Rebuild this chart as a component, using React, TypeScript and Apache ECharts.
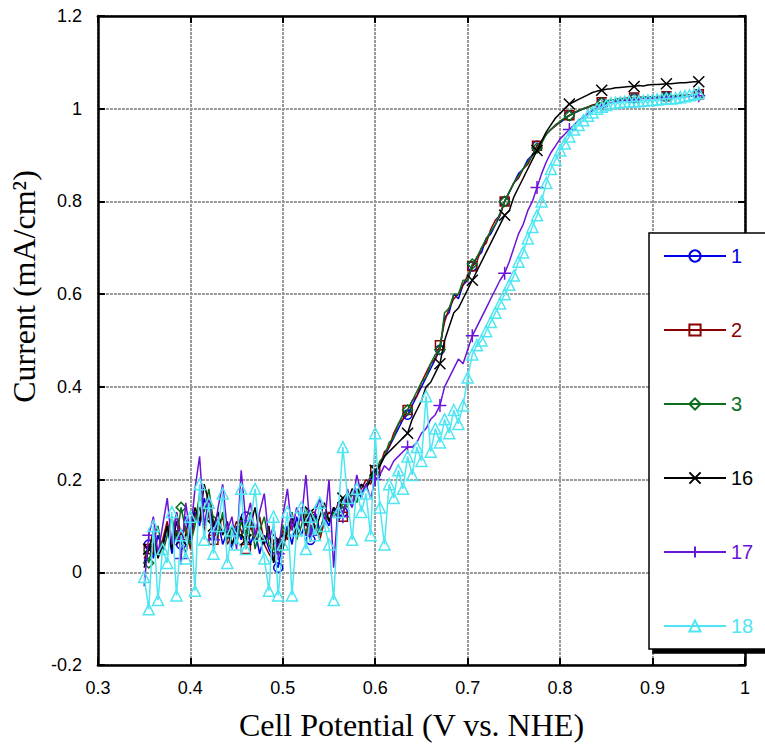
import React, { useEffect, useRef } from "react";
import * as echarts from "echarts";

// Cell potential (V vs. NHE), shared by all series
const potential = [
  0.35, 0.355, 0.36, 0.365, 0.37, 0.375, 0.38, 0.385, 0.39, 0.395, 0.4,
  0.405, 0.41, 0.415, 0.42, 0.425, 0.43, 0.435, 0.44, 0.445, 0.45,
  0.455, 0.46, 0.465, 0.47, 0.475, 0.48, 0.485, 0.49, 0.495, 0.5,
  0.505, 0.51, 0.515, 0.52, 0.525, 0.53, 0.535, 0.54, 0.545, 0.55,
  0.555, 0.56, 0.565, 0.57, 0.575, 0.58, 0.585, 0.59, 0.595, 0.6,
  0.605, 0.61, 0.615, 0.62, 0.625, 0.63, 0.635, 0.64, 0.645, 0.65,
  0.655, 0.66, 0.665, 0.67, 0.675, 0.68, 0.685, 0.69, 0.695, 0.7,
  0.705, 0.71, 0.715, 0.72, 0.725, 0.73, 0.735, 0.74, 0.745, 0.75,
  0.755, 0.76, 0.765, 0.77, 0.775, 0.78, 0.785, 0.79, 0.795, 0.8,
  0.805, 0.81, 0.815, 0.82, 0.825, 0.83, 0.835, 0.84, 0.845, 0.85,
  0.855, 0.86, 0.865, 0.87, 0.875, 0.88, 0.885, 0.89, 0.895, 0.9,
  0.905, 0.91, 0.915, 0.92, 0.925, 0.93, 0.935, 0.94, 0.945, 0.95,
];

// Current (mA/cm2)
const run1 = [
  0.02, 0.06, 0.03, 0.08, 0.05, 0.1, 0.04, 0.09, 0.06, 0.12, 0.07,
  0.13, 0.1, 0.16, 0.12, 0.08, 0.11, 0.06, 0.09, 0.05, 0.1,
  0.07, 0.12, 0.06, 0.09, 0.04, 0.08, 0.05, 0.03, 0.01, 0.07,
  0.1, 0.06, 0.12, 0.08, 0.11, 0.07, 0.13, 0.09, 0.12, 0.1,
  0.14, 0.11, 0.13, 0.16, 0.14, 0.18, 0.16, 0.19, 0.2, 0.21,
  0.23, 0.25, 0.27, 0.29, 0.31, 0.33, 0.34, 0.36, 0.38, 0.4,
  0.42, 0.44, 0.46, 0.48, 0.55, 0.56, 0.6, 0.59, 0.62, 0.63,
  0.66, 0.68, 0.69, 0.72, 0.73, 0.75, 0.77, 0.8, 0.82, 0.84,
  0.86, 0.87, 0.89, 0.9, 0.92, 0.93, 0.945, 0.955, 0.965, 0.97,
  0.978, 0.985, 0.99, 0.995, 1.0, 1.003, 1.007, 1.01, 1.013, 1.016,
  1.018, 1.02, 1.021, 1.022, 1.022, 1.023, 1.024, 1.024, 1.025, 1.025,
  1.026, 1.026, 1.027, 1.027, 1.027, 1.028, 1.028, 1.029, 1.029, 1.03,
];

const run2 = [
  0.03, 0.05, 0.09, 0.04, 0.07, 0.11, 0.06, 0.13, 0.08, 0.1, 0.05,
  0.12, 0.14, 0.09, 0.13, 0.07, 0.1, 0.12, 0.06, 0.08, 0.11,
  0.09, 0.05, 0.1, 0.07, 0.12, 0.06, 0.04, 0.025, 0.06, 0.09,
  0.07, 0.11, 0.09, 0.13, 0.08, 0.12, 0.1, 0.07, 0.11, 0.13,
  0.12, 0.15, 0.12, 0.17, 0.15, 0.17, 0.18, 0.2, 0.19, 0.22,
  0.23, 0.26, 0.27, 0.3, 0.32, 0.33, 0.35, 0.37, 0.38, 0.41,
  0.43, 0.45, 0.46, 0.49, 0.54, 0.57, 0.59, 0.6, 0.62, 0.64,
  0.66, 0.67, 0.7, 0.71, 0.74, 0.76, 0.77, 0.8, 0.82, 0.84,
  0.85, 0.87, 0.88, 0.9, 0.92, 0.93, 0.945, 0.955, 0.963, 0.972,
  0.98, 0.986, 0.992, 0.996, 1.0, 1.004, 1.008, 1.01, 1.014, 1.017,
  1.019, 1.02, 1.022, 1.022, 1.023, 1.024, 1.024, 1.025, 1.025, 1.026,
  1.026, 1.027, 1.027, 1.028, 1.028, 1.029, 1.029, 1.03, 1.03, 1.031,
];

const run3 = [
  0.05, 0.02, 0.07, 0.1, 0.04, 0.08, 0.12, 0.07, 0.14, 0.09, 0.06,
  0.1, 0.17, 0.13, 0.18, 0.11, 0.08, 0.13, 0.07, 0.1, 0.06,
  0.11, 0.08, 0.13, 0.05, 0.09, 0.12, 0.06, 0.04, 0.05, 0.1,
  0.08, 0.13, 0.07, 0.1, 0.14, 0.09, 0.12, 0.08, 0.13, 0.11,
  0.13, 0.12, 0.15, 0.14, 0.17, 0.15, 0.19, 0.18, 0.21, 0.21,
  0.24, 0.25, 0.28, 0.29, 0.32, 0.34, 0.35, 0.37, 0.39, 0.41,
  0.42, 0.45, 0.47, 0.48, 0.56, 0.57, 0.6, 0.6, 0.63, 0.63,
  0.665, 0.68, 0.7, 0.72, 0.735, 0.75, 0.775, 0.8, 0.82, 0.84,
  0.855, 0.87, 0.885, 0.9, 0.915, 0.925, 0.945, 0.955, 0.965, 0.973,
  0.98, 0.985, 0.991, 0.996, 1.0, 1.003, 1.006, 1.01, 1.013, 1.016,
  1.018, 1.019, 1.021, 1.022, 1.022, 1.023, 1.023, 1.024, 1.024, 1.025,
  1.026, 1.026, 1.026, 1.027, 1.027, 1.028, 1.028, 1.028, 1.029, 1.029,
];

const run16 = [
  0.01, 0.05, 0.08, 0.03, 0.06, 0.1, 0.05, 0.11, 0.07, 0.04, 0.09,
  0.14, 0.11, 0.19, 0.15, 0.1, 0.13, 0.08, 0.11, 0.06, 0.09,
  0.12, 0.07, 0.1, 0.14, 0.08, 0.06, 0.1, 0.02, 0.07, 0.05,
  0.09, 0.12, 0.08, 0.14, 0.1, 0.13, 0.09, 0.12, 0.15, 0.11,
  0.14, 0.13, 0.16, 0.15, 0.18, 0.17, 0.19, 0.18, 0.2, 0.22,
  0.23, 0.25, 0.26, 0.27, 0.28, 0.29, 0.3, 0.33, 0.35, 0.37,
  0.4, 0.41, 0.43, 0.45, 0.5, 0.53, 0.56, 0.57, 0.59, 0.61,
  0.63, 0.65, 0.67, 0.69, 0.71, 0.73, 0.75, 0.77, 0.78, 0.81,
  0.83, 0.85, 0.87, 0.89, 0.91, 0.93, 0.95, 0.965, 0.98, 0.99,
  1.0, 1.01, 1.015, 1.02, 1.025, 1.03, 1.035, 1.038, 1.04, 1.042,
  1.043, 1.045, 1.046, 1.047, 1.048, 1.048, 1.05, 1.049, 1.051, 1.052,
  1.052, 1.053, 1.054, 1.054, 1.055, 1.056, 1.056, 1.057, 1.058, 1.058,
];

const run17 = [
  -0.03, 0.08, 0.12, 0.04, 0.1, 0.16, 0.06, 0.13, 0.03, 0.15, 0.08,
  0.18, 0.25, 0.1, 0.16, 0.07, 0.14, 0.19, 0.09, 0.12, 0.05,
  0.22, 0.11, 0.15, 0.08, 0.13, 0.17, 0.07, 0.1, 0.04, 0.12,
  0.18, 0.09, 0.14, 0.11, 0.21, 0.08, 0.13, 0.16, 0.1, 0.2,
  0.01, 0.15, 0.12, 0.18, 0.14, 0.21, 0.17, 0.19, 0.16, 0.2,
  0.21, 0.23, 0.22, 0.24, 0.25, 0.26, 0.27, 0.27, 0.28, 0.3,
  0.31, 0.33, 0.34, 0.36, 0.4, 0.42, 0.44, 0.46, 0.45, 0.48,
  0.51, 0.53, 0.55, 0.57, 0.59, 0.61, 0.63, 0.645, 0.67, 0.7,
  0.73, 0.75, 0.78, 0.8, 0.83, 0.86, 0.885, 0.905, 0.92, 0.935,
  0.945, 0.955, 0.965, 0.975, 0.982, 0.99, 0.996, 1.0, 1.005, 1.01,
  1.013, 1.015, 1.017, 1.018, 1.019, 1.02, 1.021, 1.022, 1.022, 1.023,
  1.023, 1.024, 1.024, 1.025, 1.025, 1.026, 1.026, 1.027, 1.027, 1.028,
];

const run18 = [
  -0.01, -0.08, 0.1, -0.06, 0.05, 0.02, 0.13, -0.05, 0.08, 0.03, 0.12,
  -0.04, 0.19, 0.07, 0.15, 0.04, 0.1, 0.17, 0.02, 0.09, 0.06,
  0.18, 0.05, 0.11, 0.18, 0.08, 0.03, -0.04, 0.12, -0.05, 0.06,
  0.13, -0.05, 0.09, 0.14, 0.05, 0.12, 0.08, 0.15, 0.1, 0.06,
  -0.06, 0.13, 0.27, 0.16, 0.07, 0.18, 0.13, 0.17, 0.08, 0.3,
  0.14, 0.06, 0.19, 0.16, 0.22, 0.18, 0.25, 0.21, 0.27, 0.24,
  0.38, 0.26, 0.31, 0.28, 0.33, 0.3, 0.35, 0.32, 0.36, 0.42,
  0.47, 0.49, 0.5, 0.52, 0.54, 0.56, 0.58, 0.6, 0.62, 0.64,
  0.67, 0.69, 0.72, 0.745, 0.77, 0.8, 0.84, 0.87, 0.89, 0.91,
  0.925, 0.94, 0.955, 0.965, 0.975, 0.985, 0.992, 1.0, 1.004, 1.008,
  1.012, 1.013, 1.014, 1.015, 1.015, 1.016, 1.016, 1.017, 1.018, 1.019,
  1.02, 1.021, 1.022, 1.022, 1.023, 1.025, 1.027, 1.029, 1.031, 1.034,
];

const runNames = ["1", "2", "3", "16", "17", "18"];
const runValues = [run1, run2, run3, run16, run17, run18];

const xTicks = { min: 0.3, max: 1, interval: 0.1 };
const yTicks = { min: -0.2, max: 1.2, interval: 0.2 };

const colors = ["#0000e6", "#8b0000", "#0a6e1e", "#000000", "#6a14d8", "#4fe6f2"];
const symbols = [
  "circle",
  "rect",
  "diamond",
  "path://M0,0L10,10M10,0L0,10",
  "path://M5,0L5,10M0,5L10,5",
  "triangle",
];
const symbolSizes = [9, 9, 10, 11, 13, 11];
const markerEvery = [7, 7, 7, 7, 7, 1];

const SANS = "'Liberation Sans', Arial, sans-serif";
const SERIF = "'Liberation Serif', 'Times New Roman', serif";

export default function App() {
  const ref = useRef<HTMLDivElement>(null);

  useEffect(() => {
    if (!ref.current) return;
    const chart = echarts.init(ref.current, null, { renderer: "svg" });

    const series = runNames.map((name, k) => ({
      type: "line",
      name,
      symbol: symbols[k],
      symbolSize: symbolSizes[k],
      showAllSymbol: true,
      lineStyle: { color: colors[k], width: 1.5 },
      itemStyle: { color: "rgba(255,255,255,0)", borderColor: colors[k], borderWidth: 1.5 },
      emphasis: { disabled: true },
      z: 2 + k,
      data: potential.map((x, i) => ({
        value: [x, runValues[k][i]],
        symbol: markerEvery[k] === 1 || i % markerEvery[k] === 1 ? symbols[k] : "none",
      })),
    }));

    const gridLine = { show: true, lineStyle: { color: "#9a9a9a", width: 2, type: [3, 1] } };
    const axisLine = { show: true, onZero: false, lineStyle: { color: "#000", width: 2.5 } };
    const axisTick = { show: true, inside: true, length: 7, lineStyle: { color: "#000", width: 2 } };

    chart.setOption({
      animation: false,
      backgroundColor: "#ffffff",
      grid: { left: 95, right: 20, top: 16, bottom: 80.5, containLabel: false },
      xAxis: [
        {
          type: "value",
          ...xTicks,
          position: "bottom",
          axisLine,
          axisTick,
          splitLine: gridLine,
          axisLabel: { color: "#000", fontSize: 18, fontFamily: SANS, margin: 14 },
          name: "Cell Potential (V vs. NHE)",
          nameLocation: "middle",
          nameGap: 44,
          nameTextStyle: { color: "#000", fontSize: 32, fontFamily: SERIF, padding: [0, 20, 0, 0] },
        },
        {
          type: "value",
          ...xTicks,
          position: "top",
          axisLine,
          axisTick,
          splitLine: { show: false },
          axisLabel: { show: false },
        },
      ],
      yAxis: [
        {
          type: "value",
          ...yTicks,
          position: "left",
          axisLine,
          axisTick,
          splitLine: gridLine,
          axisLabel: { color: "#000", fontSize: 18, fontFamily: SANS, margin: 16 },
          name: "Current (mA/cm²)",
          nameLocation: "middle",
          nameGap: 45,
          nameTextStyle: { color: "#000", fontSize: 32, fontFamily: SERIF, padding: [0, 0, 0, 108] },
        },
        {
          type: "value",
          ...yTicks,
          position: "right",
          axisLine,
          axisTick,
          splitLine: { show: false },
          axisLabel: { show: false },
        },
      ],
      legend: {
        orient: "vertical",
        left: 649,
        top: 233,
        itemWidth: 62,
        itemHeight: 14,
        itemGap: 54,
        padding: [13, 60, 13, 14],
        backgroundColor: "#ffffff",
        borderColor: "#000",
        borderWidth: 1.5,
        borderRadius: 0,
        shadowColor: "#000",
        shadowBlur: 0,
        shadowOffsetX: 4,
        shadowOffsetY: 4,
        selectedMode: false,
        textStyle: { fontSize: 20, fontFamily: SANS },
        data: runNames.map((name, k) => ({ name, textStyle: { color: colors[k] } })),
      },
      series,
    });

    return () => chart.dispose();
  }, []);

  return (
    <div
      ref={ref}
      style={{ position: "fixed", left: 0, top: 0, width: 765, height: 746, background: "#fff" }}
    />
  );
}
